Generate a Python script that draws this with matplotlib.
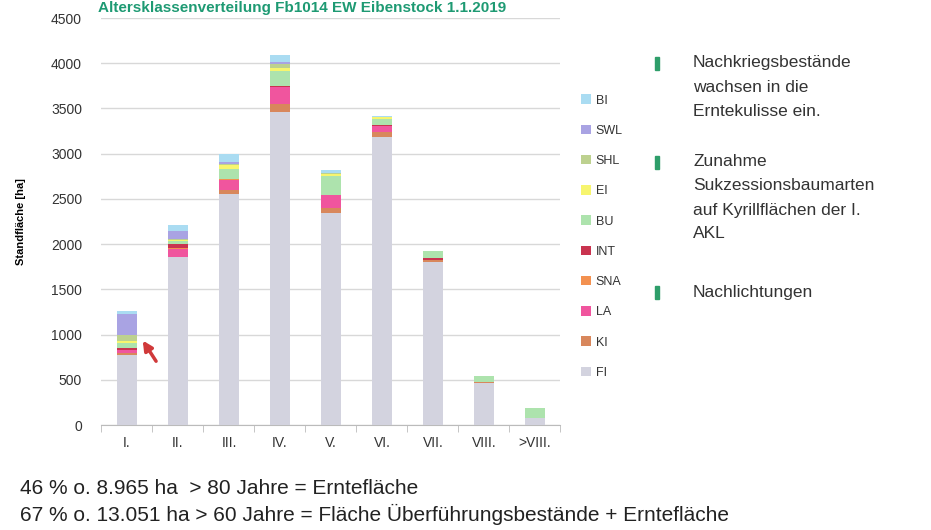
import matplotlib
matplotlib.use("Agg")
import matplotlib.pyplot as plt
import numpy as np

plt.rcParams['font.family'] = ['Liberation Sans', 'DejaVu Sans']

categories = ["I.", "II.", "III.", "IV.", "V.", "VI.", "VII.", "VIII.", ">VIII."]
species = ["FI", "KI", "LA", "SNA", "INT", "BU", "EI", "SHL", "SWL", "BI"]
FI  = [775, 1855, 2555, 3465, 2340, 3190, 1805, 460, 80]
KI  = [20, 0, 45, 85, 65, 55, 20, 15, 0]
LA  = [40, 90, 110, 185, 135, 65, 0, 0, 0]
SNA = [0, 10, 5, 5, 0, 0, 0, 0, 0]
INT = [15, 50, 10, 10, 8, 10, 20, 5, 0]
BU  = [60, 25, 110, 165, 200, 63, 80, 62, 110]
EI  = [15, 15, 37, 37, 30, 18, 0, 0, 0]
SHL = [75, 15, 18, 37, 10, 0, 0, 0, 0]
SWL = [230, 88, 18, 25, 0, 0, 0, 0, 0]
BI  = [30, 66, 85, 77, 35, 18, 0, 0, 0]
values = {"FI": FI, "KI": KI, "LA": LA, "SNA": SNA, "INT": INT, "BU": BU,
          "EI": EI, "SHL": SHL, "SWL": SWL, "BI": BI}
colors = {"FI": "#d3d3df", "KI": "#d8875c", "LA": "#f0559e", "SNA": "#f39150",
          "INT": "#c9334f", "BU": "#ade3ad", "EI": "#f7f56e", "SHL": "#bdd18f",
          "SWL": "#a9a3e3", "BI": "#aadcf2"}

fig = plt.figure(figsize=(9.31, 5.30), dpi=100)
ax = fig.add_axes([0.109, 0.198, 0.493, 0.768])

x = np.arange(len(categories))
bottom = np.zeros(len(categories))
handles = {}
for sp in species:
    v = np.array(values[sp], dtype=float)
    h = ax.bar(x, v, bottom=bottom, width=0.4, color=colors[sp], label=sp, zorder=3)
    handles[sp] = h
    bottom += v

ax.set_xlim(-0.5, len(categories) - 0.5)
ax.set_ylim(0, 4500)
ax.set_yticks(np.arange(0, 4501, 500))
ax.set_xticks(x)
ax.set_xticklabels(categories)
ax.set_xticks(np.arange(-0.5, len(categories) - 0.4, 1), minor=True)
ax.tick_params(axis='x', which='major', length=0, pad=8, labelsize=10, colors='#333333')
ax.tick_params(axis='x', which='minor', length=5, color='#bbbbbb')
ax.tick_params(axis='y', length=0, labelsize=10, colors='#333333', pad=14)
ax.grid(axis='y', color='#d8d8d8', linewidth=1, zorder=0)
for s in ['top', 'right', 'left']:
    ax.spines[s].set_visible(False)
ax.spines['bottom'].set_color('#bbbbbb')
ax.set_ylabel("Standfläche [ha]", fontsize=8, fontweight='bold', labelpad=18)

leg = ax.legend([handles[s] for s in species[::-1]], species[::-1],
                loc='upper left', bbox_to_anchor=(1.02, 0.84), frameon=False,
                fontsize=9, handlelength=0.8, handleheight=0.8,
                handletextpad=0.4, labelspacing=1.45)
for t in leg.get_texts():
    t.set_color('#333333')

# Title at the very top
fig.text(0.105, 0.998, "Altersklassenverteilung Fb1014 EW Eibenstock 1.1.2019",
         fontsize=11, fontweight='bold', color='#1e9a73', va='top', ha='left')

# Right-side bullet texts
bullets = [
    (63, ["Nachkriegsbestände", "wachsen in die", "Erntekulisse ein."]),
    (162, ["Zunahme", "Sukzessionsbaumarten", "auf Kyrillflächen der I.", "AKL"]),
    (292, ["Nachlichtungen"]),
]
for ytop, lines in bullets:
    fig.patches.append(plt.Rectangle((655 / 931, 1 - (ytop + 7) / 530), 4 / 931, 13 / 530,
                                     transform=fig.transFigure, color='#2e9e6a'))
    for i, ln in enumerate(lines):
        fig.text(693 / 931, 1 - (ytop + 24 * i) / 530, ln, fontsize=12.5,
                 color='#333333', va='center', ha='left')

fig.text(20 / 931, 1 - 489 / 530, "46 % o. 8.965 ha  > 80 Jahre = Erntefläche",
         fontsize=15, color='#222222', va='center', ha='left')
fig.text(20 / 931, 1 - 514 / 530, "67 % o. 13.051 ha > 60 Jahre = Fläche Überführungsbestände + Erntefläche",
         fontsize=15, color='#222222', va='center', ha='left')

# Red arrow
ax.annotate("", xy=(0.28, 960), xytext=(0.6, 680),
            arrowprops=dict(arrowstyle='-|>', color='#d0393a', lw=2.5, mutation_scale=14),
            zorder=5)

fig.savefig("out.png", dpi=100)
